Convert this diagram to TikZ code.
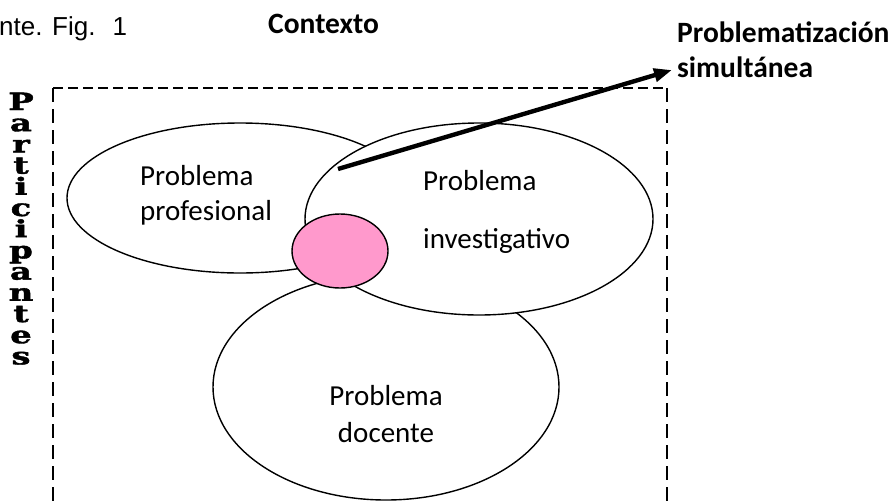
\documentclass[tikz,border=0pt]{standalone}
\usepackage{fontspec}
\setmainfont{Carlito}
\newfontfamily\arialfont{Liberation Sans}
\newfontfamily\slabfont[BoldFeatures={FakeBold=1.5}]{DejaVu Serif}
\usetikzlibrary{arrows.meta,shapes.geometric}
\definecolor{pinkfill}{RGB}{255,153,204}
\begin{document}
\begin{tikzpicture}[x=1pt,y=-1pt,
  ell/.style={draw=black,line width=1.4pt,fill=white,ellipse,inner sep=0pt},
  lbl/.style={anchor=base west,inner sep=0pt,font=\fontsize{29}{34}\selectfont},
  lblb/.style={anchor=base west,inner sep=0pt,font=\bfseries\fontsize{29.5}{34}\selectfont},
  slabletter/.style={anchor=base,inner sep=0pt,font=\slabfont\bfseries\fontsize{27}{27}\selectfont},
  frame/.style={line width=1.6pt}]
\useasboundingbox (0,0) rectangle (890,501);
% dashed frame
\coordinate (fTL) at (53,88);
\coordinate (fTR) at (667,88);
\coordinate (fBL) at (53,520);
\coordinate (fBR) at (667,520);
\draw[frame,dash pattern=on 10pt off 5pt] (fTL) -- (fTR);
\draw[frame,dash pattern=on 14pt off 7pt] (fTL) -- (fBL);
\draw[frame,dash pattern=on 14pt off 7pt] (fTR) -- (fBR);
% ellipses
\node[ell,minimum width=346pt,minimum height=150pt] (prof) at (240,198) {};
\node[ell,minimum width=346pt,minimum height=226pt] (doc) at (386,387) {};
\node[ell,minimum width=348pt,minimum height=192pt] (inv) at (479,219) {};
\node[ell,fill=pinkfill,minimum width=96pt,minimum height=74pt] (pink) at (340,251) {};
% labels in ellipses
\node[lbl] (prof1) at (140,185) {Problema};
\node[lbl] (prof2) at (140,220) {profesional};
\node[lbl] (inv1) at (423,190) {Problema};
\node[lbl] (inv2) at (423,248) {investigativo};
\node[lbl,anchor=base] (doc1) at (386,405) {Problema};
\node[lbl,anchor=base] (doc2) at (386,442) {docente};
% top texts
\node[anchor=base west,inner sep=0pt,font=\arialfont\fontsize{26}{30}\selectfont] (fig) at (-1,35) {nte. Fig.\hspace{17pt}1};
\node[lblb] (ctx) at (268,33) {Contexto};
\node[lblb] (prob1) at (677,42) {Problematización};
\node[lblb] (prob2) at (677,77) {simultánea};
% arrow
\coordinate (astart) at (338,169);
\coordinate (aend) at (672,70);
\draw[line width=4.4pt,-{Triangle[length=18pt,width=13pt]}] (astart) -- (aend);
% vertical word
\foreach \l [count=\i] in {P,a,r,t,i,c,i,p,a,n,t,e,s} {
  \node[slabletter] (part\i) at (21,{110+21.2*(\i-1)}) {\scalebox{1.25}[0.88]{\l}};
}
\end{tikzpicture}
\end{document}
